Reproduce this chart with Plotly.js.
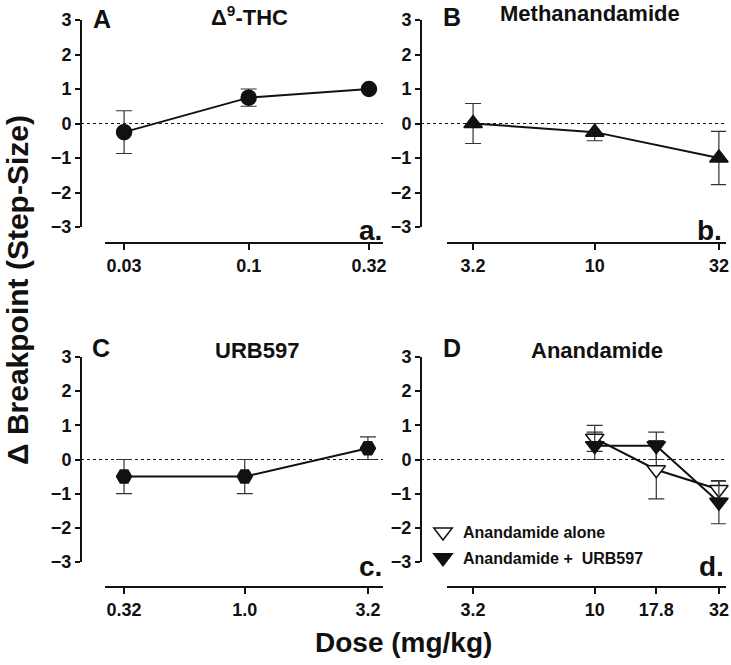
<!DOCTYPE html>
<html>
<head>
<meta charset="utf-8">
<script src="https://cdn.plot.ly/plotly-3.0.1.min.js"></script>
<style>html,body{margin:0;padding:0;background:#fff;}#chart{width:731px;height:665px;}</style>
</head>
<body>
<div id="chart"></div>
<script>
// ---- data ----
const thcDose = [0.03, 0.1, 0.32];
const thcMean = [-0.25, 0.75, 1.0];
const thcSem  = [0.62, 0.25, 0.0];
const thcTicks = ['0.03', '0.1', '0.32'];

const methDose = [3.2, 10, 32];
const methMean = [0.0, -0.25, -1.0];
const methSem  = [0.58, 0.25, 0.77];
const methTicks = ['3.2', '10', '32'];

const urbDose = [0.32, 1.0, 3.2];
const urbMean = [-0.5, -0.5, 0.33];
const urbSem  = [0.5, 0.5, 0.33];
const urbTicks = ['0.32', '1.0', '3.2'];

const anaDose = [10, 17.8, 32];
const anaAloneMean = [0.62, -0.3, -0.88];
const anaAloneSem  = [0.38, 0.85, 0.25];
const anaUrbMean = [0.4, 0.4, -1.25];
const anaUrbSem  = [0.4, 0.4, 0.63];
const anaTickVals = [3.2, 10, 17.8, 32];
const anaTicks = ['3.2', '10', '17.8', '32'];

// ---- layout helpers ----
const W = 731, H = 665;
const px = v => v / W;
const py = v => 1 - v / H;
const FONT = 'Arial, "Liberation Sans", Helvetica, sans-serif';

function xAxis(domain, range, posY, vals, text) {
  return {
    type: 'log', domain: [px(domain[0]), px(domain[1])], range: range,
    anchor: 'free', position: py(posY),
    tickmode: 'array', tickvals: vals, ticktext: text,
    showline: true, linewidth: 2, linecolor: '#111',
    ticks: 'outside', ticklen: 6, tickwidth: 2, tickcolor: '#111',
    showgrid: false, zeroline: false,
    tickfont: {family: FONT, size: 18, color: '#111', weight: 'bold'},
    fixedrange: true
  };
}
function yAxis(domain, posX) {
  return {
    domain: [py(domain[1]), py(domain[0])], range: [-3, 3],
    anchor: 'free', position: px(posX),
    tickmode: 'array', tickvals: [-3, -2, -1, 0, 1, 2, 3],
    showline: true, linewidth: 2, linecolor: '#111',
    ticks: 'outside', ticklen: 5, tickwidth: 2, tickcolor: '#111',
    showgrid: false, zeroline: false,
    tickfont: {family: FONT, size: 18, color: '#111', weight: 'bold'},
    fixedrange: true
  };
}
function errBar(arr) {
  return {type: 'data', array: arr, visible: true, color: '#333', thickness: 1.2, width: 8};
}
function series(x, y, err, xa, ya, symbol, size, name, fill, legend) {
  return {
    x: x, y: y, xaxis: xa, yaxis: ya, type: 'scatter', mode: 'lines+markers',
    name: name, showlegend: !!legend, legendgroup: name,
    line: {color: '#111', width: 2},
    marker: {symbol: symbol, size: size, color: fill, line: {color: '#111', width: 1.5}},
    error_y: errBar(err), cliponaxis: false
  };
}
function lineOnly(x, y, xa, ya) {
  return {x: x, y: y, xaxis: xa, yaxis: ya, type: 'scatter', mode: 'lines',
    showlegend: false, line: {color: '#111', width: 2}, hoverinfo: 'skip', cliponaxis: false};
}
function markOnly(x, y, err, xa, ya, symbol, size, name, fill) {
  return {x: x, y: y, xaxis: xa, yaxis: ya, type: 'scatter', mode: 'markers',
    name: name, showlegend: true, legendgroup: name,
    marker: {symbol: symbol, size: size, color: fill, line: {color: '#111', width: 1.5}},
    error_y: errBar(err), cliponaxis: false};
}

const traces = [
  series(thcDose, thcMean, thcSem, 'x', 'y', 'circle', 15, 'THC', '#111'),
  series(methDose, methMean, methSem, 'x2', 'y2', 'triangle-up', 16, 'Methanandamide', '#111'),
  series(urbDose, urbMean, urbSem, 'x3', 'y3', 'hexagon2', 15, 'URB597', '#111'),
  lineOnly(anaDose, anaAloneMean, 'x4', 'y4'),
  lineOnly(anaDose, anaUrbMean, 'x4', 'y4'),
  markOnly(anaDose, anaAloneMean, anaAloneSem, 'x4', 'y4', 'triangle-down', 16, 'Anandamide alone', '#fff'),
  markOnly(anaDose, anaUrbMean, anaUrbSem, 'x4', 'y4', 'triangle-down', 16, 'Anandamide +  URB597', '#111')
];

function zeroLine(yref, x0, x1) {
  return {type: 'line', xref: 'paper', yref: yref, x0: px(x0), x1: px(x1), y0: 0, y1: 0,
    line: {color: '#111', width: 1, dash: 'dot'}, layer: 'below'};
}
function ann(text, x, y, size, xanchor, extra) {
  return Object.assign({text: text, x: px(x), y: py(y), xref: 'paper', yref: 'paper',
    xanchor: xanchor || 'center', yanchor: 'middle', showarrow: false,
    font: {family: FONT, size: size, color: '#111', weight: 'bold'}}, extra || {});
}

const layout = {
  width: W, height: H,
  margin: {l: 0, r: 0, t: 0, b: 0, pad: 0},
  paper_bgcolor: '#fff', plot_bgcolor: 'rgba(0,0,0,0)',
  showlegend: true,
  legend: {x: px(423), y: py(515), xanchor: 'left', yanchor: 'top',
    bgcolor: 'rgba(0,0,0,0)', traceorder: 'grouped', tracegroupgap: 2,
    font: {family: FONT, size: 16, color: '#111', weight: 'bold'}},
  xaxis:  xAxis([105, 383], [-1.603, -0.436], 243, thcDose, thcTicks),
  yaxis:  yAxis([20, 227], 81),
  xaxis2: xAxis([447, 726], [0.399, 1.534], 243, methDose, methTicks),
  yaxis2: yAxis([20, 227], 421),
  xaxis3: xAxis([105, 383], [-0.573, 0.567], 587, urbDose, urbTicks),
  yaxis3: yAxis([357, 562], 81),
  xaxis4: xAxis([447, 726], [0.399, 1.534], 587, anaTickVals, anaTicks),
  yaxis4: yAxis([357, 562], 421),
  shapes: [zeroLine('y', 81, 383), zeroLine('y2', 421, 726), zeroLine('y3', 81, 383), zeroLine('y4', 421, 726)],
  annotations: [
    ann('A', 102, 19, 25),
    ann('Δ<sup>9</sup>-THC', 249, 16, 22),
    ann('B', 452, 17, 25),
    ann('Methanandamide', 590, 14, 22),
    ann('C', 101, 348, 25),
    ann('URB597', 257, 350, 22),
    ann('D', 452, 348, 25),
    ann('Anandamide', 597, 350, 22),
    ann('a.', 384, 230, 28, 'right'),
    ann('b.', 724, 230, 28, 'right'),
    ann('c.', 384, 566, 28, 'right'),
    ann('d.', 726, 566, 28, 'right'),
    ann('Δ Breakpoint (Step-Size)', 17, 290, 30, 'center', {textangle: -90}),
    ann('Dose (mg/kg)', 403, 642, 28)
  ]
};

Plotly.newPlot('chart', traces, layout, {displayModeBar: false, staticPlot: true});
</script>
</body>
</html>
